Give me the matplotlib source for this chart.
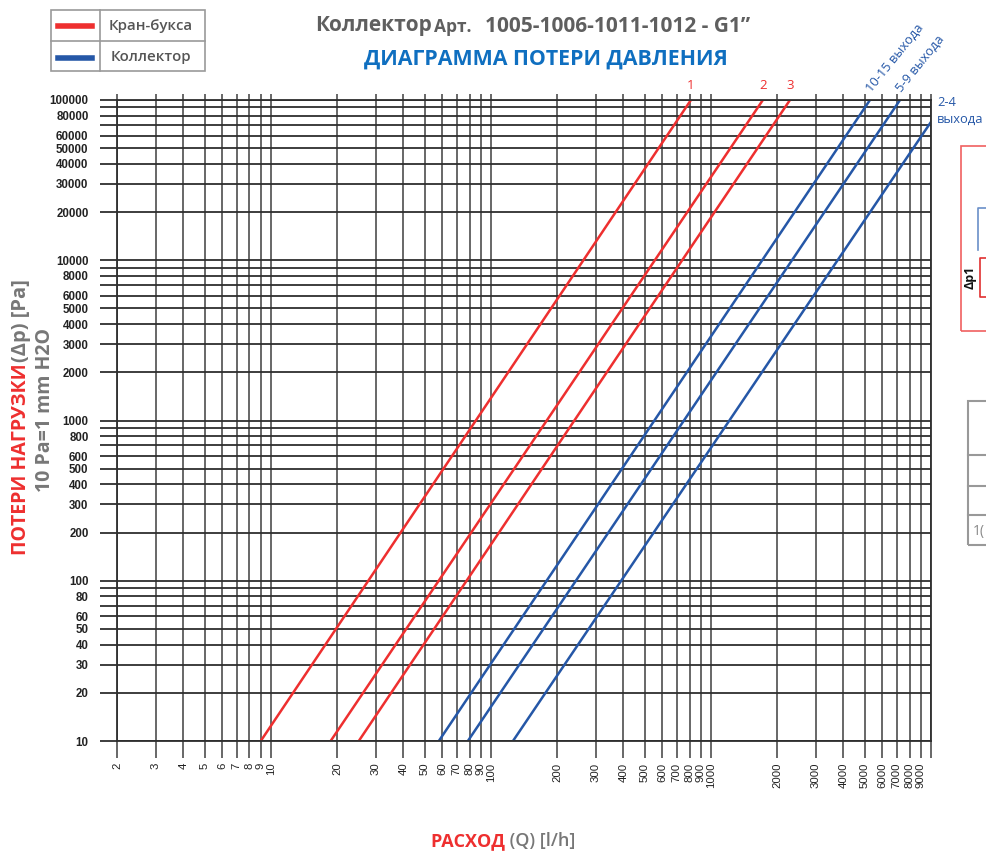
import numpy as np
import matplotlib
matplotlib.use("Agg")
import matplotlib.pyplot as plt
from matplotlib.ticker import FixedLocator, FixedFormatter, NullLocator
from matplotlib.patches import Rectangle
from matplotlib.lines import Line2D

plt.rcParams['font.family'] = ['Open Sans', 'DejaVu Sans']

# flow rate Q [l/h] at the two ends of every curve, and the matching pressure loss [Pa]
kran_names = ['1', '2', '3']
kran_q = [[9.0, 811], [18.7, 1722], [25.1, 2286]]
kran_dp = [[10, 100000], [10, 100000], [10, 100000]]

coll_names = ['10-15 выхода', '5-9 выхода', '2-4\nвыхода']
coll_q = [[58, 5280], [78.6, 7230], [126, 10000]]
coll_dp = [[10, 100000], [10, 100000], [10, 73000]]

# grid values: every 1..9 step of each decade
x_ticks = [m * 10 ** d for d in range(0, 4) for m in range(1, 10)][1:] + [10000]
x_labels = [str(v) for v in x_ticks[:-1]] + ['']
y_ticks = [m * 10 ** d for d in range(1, 5) for m in range(1, 10)] + [100000]
y_shown = [1, 2, 3, 4, 5, 6, 8]
y_labels = [str(v) if int(str(v)[0]) in y_shown else '' for v in y_ticks]

RED = '#ee2f2f'
BLUE = '#2557a7'
GRAY = '#5f5f5f'
LGRAY = '#777777'

W, H = 986, 852
fig = plt.figure(figsize=(W / 100, H / 100), dpi=100)


def fx(px):
    return px / W


def fy(py):
    return 1 - py / H


ax = fig.add_axes([fx(117), fy(741), fx(931) - fx(117), fy(100) - fy(741)])
ax.set_xscale('log')
ax.set_yscale('log')
ax.set_xlim(2, 10000)
ax.set_ylim(10, 100000)

ax.xaxis.set_major_locator(FixedLocator(x_ticks))
ax.xaxis.set_major_formatter(FixedFormatter(x_labels))
ax.xaxis.set_minor_locator(NullLocator())
ax.yaxis.set_major_locator(FixedLocator(y_ticks))
ax.yaxis.set_major_formatter(FixedFormatter(y_labels))
ax.yaxis.set_minor_locator(NullLocator())

ax.grid(True, axis='x', color='#5c5c5c', lw=1.3)
ax.grid(True, axis='y', color='#2e2e2e', lw=1.3)
ax.tick_params(axis='x', which='major', direction='out', length=12, width=1.3,
               color='#5c5c5c', pad=3.5, labelrotation=90, labelsize=8.2)
ax.tick_params(axis='y', which='major', direction='out', length=12, width=1.3,
               color='#2e2e2e', pad=8.5, labelsize=8.3)
for lab in ax.get_xticklabels():
    lab.set_family('Liberation Sans')
    lab.set_color('#222222')
for lab in ax.get_yticklabels():
    lab.set_family('Liberation Sans')
    lab.set_weight('bold')
    lab.set_color('#222222')
# short ticks above the top line
ax.xaxis.set_ticks_position('both')
ax.tick_params(axis='x', which='major', top=True, labeltop=False)
for t in ax.xaxis.get_major_ticks():
    t.tick2line.set_markersize(4)

for s in ax.spines.values():
    s.set_color('#2e2e2e')
    s.set_linewidth(1.3)

# pressure loss curves
for name, q, dp in zip(kran_names, kran_q, kran_dp):
    ax.plot(q, dp, color=RED, lw=1.8, solid_capstyle='butt')
    ax.annotate(name, (q[1], dp[1]), xytext=(0, 6), textcoords='offset points',
                ha='center', va='bottom', color=RED, fontsize=9.5, annotation_clip=False)

for i, (name, q, dp) in enumerate(zip(coll_names, coll_q, coll_dp)):
    ax.plot(q, dp, color=BLUE, lw=1.8, solid_capstyle='butt')
    if i < 2:
        ax.annotate(name, (q[1], dp[1]), xytext=(3, 4), textcoords='offset points',
                    ha='left', va='bottom', rotation=51, rotation_mode='anchor',
                    color=BLUE, fontsize=9.3, annotation_clip=False)
    else:
        fig.text(fx(937), fy(111), name, ha='left', va='center', color=BLUE,
                 fontsize=9.3, linespacing=1.3)

# titles
fig.text(fx(315), fy(26), 'Коллектор', ha='left', va='center', color=GRAY,
         fontsize=15, fontweight='bold')
fig.text(fx(434), fy(27), 'Арт.', ha='left', va='center', color=GRAY,
         fontsize=12.5, fontweight='bold')
fig.text(fx(485), fy(26), '1005-1006-1011-1012 - G1”', ha='left', va='center',
         color=GRAY, fontsize=15, fontweight='bold')
fig.text(fx(546), fy(59), 'ДИАГРАММА ПОТЕРИ ДАВЛЕНИЯ', ha='center', va='center',
         color='#0f6fc0', fontsize=15.4, fontweight='bold')

# legend table
fig.add_artist(Rectangle((fx(51), fy(71)), fx(205) - fx(51), fy(10) - fy(71),
                         fill=False, ec='#9a9a9a', lw=1.2, transform=fig.transFigure))
fig.add_artist(Line2D([fx(100), fx(100)], [fy(10), fy(71)], color='#9a9a9a', lw=1.2))
fig.add_artist(Line2D([fx(51), fx(205)], [fy(40.5), fy(40.5)], color='#9a9a9a', lw=1.2))
fig.add_artist(Line2D([fx(58), fx(92)], [fy(25.5), fy(25.5)], color=RED, lw=4))
fig.add_artist(Line2D([fx(58), fx(92)], [fy(57.5), fy(57.5)], color=BLUE, lw=4))
fig.text(fx(151), fy(26), 'Кран-букса', ha='center', va='center', color='#555555',
         fontsize=10.8, fontweight='semibold')
fig.text(fx(151), fy(57), 'Коллектор', ha='center', va='center', color='#555555',
         fontsize=10.8, fontweight='semibold')

# axis titles
fig.text(fx(21), fy(555), 'ПОТЕРИ НАГРУЗКИ', rotation=90, ha='center', va='bottom',
         color=RED, fontsize=14, fontweight='bold')
fig.text(fx(21), fy(362), '(Δp) [Pa]', rotation=90, ha='center', va='bottom',
         color=LGRAY, fontsize=14.5, fontweight='bold')
fig.text(fx(45), fy(410), '10 Pa=1 mm H2O', rotation=90, ha='center', va='center',
         color=LGRAY, fontsize=14, fontweight='bold')

fig.text(fx(505), fy(841), 'РАСХОД', ha='right', va='center', color=RED,
         fontsize=13, fontweight='bold')
fig.text(fx(505), fy(841), ' (Q) [l/h]', ha='left', va='center', color=LGRAY,
         fontsize=13, fontweight='semibold')

# pieces of the neighbouring scheme at the right edge
fig.add_artist(Rectangle((fx(961), fy(331)), fx(1000) - fx(961), fy(146) - fy(331),
                         fill=False, ec='#f06060', lw=1.2, transform=fig.transFigure))
fig.add_artist(Line2D([fx(978), fx(978), fx(990)], [fy(250), fy(208), fy(208)],
                      color='#6a8fc8', lw=1.2))
fig.add_artist(Line2D([fx(990), fx(980), fx(980), fx(990)],
                      [fy(258), fy(258), fy(297), fy(297)], color='#e03030', lw=1.2))
fig.text(fx(970), fy(277), 'Δp1', rotation=90, ha='center', va='center',
         color='#111111', fontsize=9, fontweight='bold')
fig.add_artist(Rectangle((fx(968), fy(545)), fx(1000) - fx(968), fy(401) - fy(545),
                         fill=False, ec='#999999', lw=1.5, transform=fig.transFigure))
for py in [455, 486, 515]:
    fig.add_artist(Line2D([fx(968), fx(990)], [fy(py), fy(py)], color='#999999', lw=1.5))
fig.text(fx(973), fy(531), '1(', ha='left', va='center', color='#888888', fontsize=10)

fig.savefig('out.png', dpi=100)
